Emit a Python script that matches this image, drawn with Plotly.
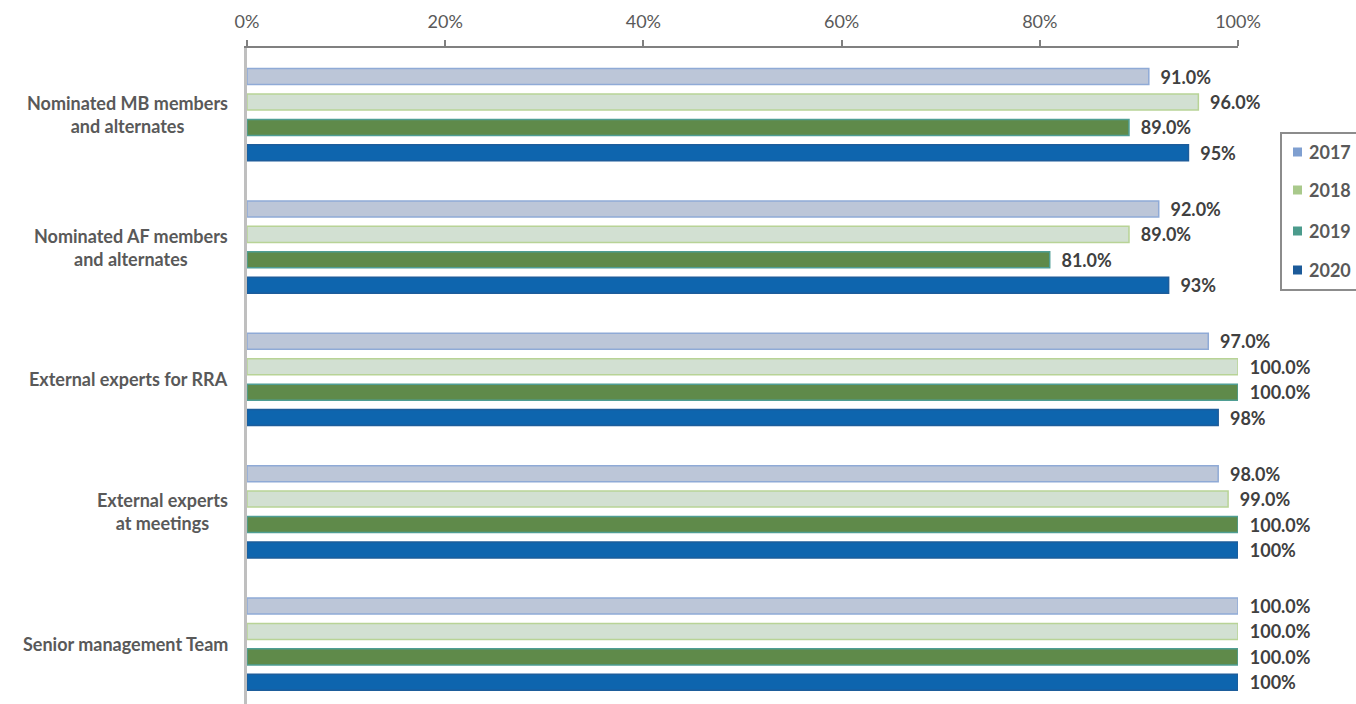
import plotly.graph_objects as go

categories = [
    "Nominated MB members<br>and alternates",
    "Nominated AF members<br>and alternates",
    "External experts for RRA",
    "External experts<br>at meetings",
    "Senior management Team",
]
years = ["2017", "2018", "2019", "2020"]
values = {
    "2017": [0.91, 0.92, 0.97, 0.98, 1.00],
    "2018": [0.96, 0.89, 1.00, 0.99, 1.00],
    "2019": [0.89, 0.81, 1.00, 1.00, 1.00],
    "2020": [0.95, 0.93, 0.98, 1.00, 1.00],
}
label_formats = {"2017": ".1%", "2018": ".1%", "2019": ".1%", "2020": ".0%"}
tick_vals = [0, 0.2, 0.4, 0.6, 0.8, 1.0]
tick_text = ["0%", "20%", "40%", "60%", "80%", "100%"]

bar_fill = {"2017": "#bcc6d8", "2018": "#d2e0d2", "2019": "#5f8a4a", "2020": "#0e65ae"}
bar_edge = {"2017": "#8faad6", "2018": "#b8d396", "2019": "#4f9e94", "2020": "#1d5d9b"}
legend_color = {"2017": "#7f9fd0", "2018": "#a9c98b", "2019": "#4b9b8c", "2020": "#1c5a99"}

FONT = "Lato, Carlito, Calibri, sans-serif"
NB = "\u00a0"

W, H = 1356, 704
L, R, T, B = 247, 118, 48, 0
PW, PH = W - L - R, H - T - B


def px_x(px):
    return (px - L) / PW


def px_y(py):
    return 1 - (py - T) / PH


fig = go.Figure()
for yr in years:
    fig.add_trace(go.Bar(
        name=yr, y=categories, x=values[yr], orientation="h",
        marker=dict(color=bar_fill[yr], line=dict(color=bar_edge[yr], width=1.5)),
        texttemplate=NB * 2 + "%{x:" + label_formats[yr] + "}",
        textposition="outside", constraintext="none", cliponaxis=False,
        textfont=dict(family=FONT, size=18, color="#404040", weight="bold"),
        showlegend=False, hoverinfo="x+name",
    ))

# category labels, centred line by line to the left of the axis
for cat in categories:
    fig.add_annotation(
        x=0, xref="paper", y=cat, yref="y", text="<b>" + cat + "</b>",
        showarrow=False, xanchor="right", xshift=-17, align="center",
        font=dict(family=FONT, size=18, color="#595959"),
    )

# legend box at the right edge (runs past the page border)
fig.add_shape(
    type="rect", xref="paper", yref="paper",
    x0=px_x(1281), x1=px_x(1380), y0=px_y(290), y1=px_y(133),
    line=dict(color="#8c8c8c", width=2), fillcolor="white", layer="above",
)
legend_rows = [152, 190, 231, 270]
for yr, row in zip(years, legend_rows):
    fig.add_shape(
        type="rect", xref="paper", yref="paper",
        x0=px_x(1293), x1=px_x(1302), y0=px_y(row + 4.5), y1=px_y(row - 4.5),
        line=dict(width=0), fillcolor=legend_color[yr], layer="above",
    )
    fig.add_annotation(
        x=px_x(1307), xref="paper", y=px_y(row), yref="paper", text="<b>" + yr + "</b>",
        showarrow=False, xanchor="left", yanchor="middle",
        font=dict(family=FONT, size=18, color="#595959"),
    )

fig.update_layout(
    width=W, height=H,
    margin=dict(l=L, r=R, t=T, b=B, autoexpand=False),
    paper_bgcolor="white", plot_bgcolor="white",
    barmode="group", bargap=0.232, bargroupgap=0.37,
    font=dict(family=FONT, color="#595959"),
    xaxis=dict(
        side="top", range=[0, 1], tickvals=tick_vals, ticktext=tick_text,
        showgrid=False, zeroline=False, showline=True, linecolor="#808080", linewidth=2,
        ticks="outside", ticklen=6, tickcolor="#808080", tickwidth=2,
        ticklabelstandoff=5,
        tickfont=dict(family=FONT, size=18, color="#595959"),
    ),
    yaxis=dict(
        range=[4.452, -0.504], showticklabels=False, ticks="",
        showgrid=False, zeroline=False, showline=True, linecolor="#bfbfbf", linewidth=3,
    ),
    showlegend=False,
)

fig.write_html("out.html")
